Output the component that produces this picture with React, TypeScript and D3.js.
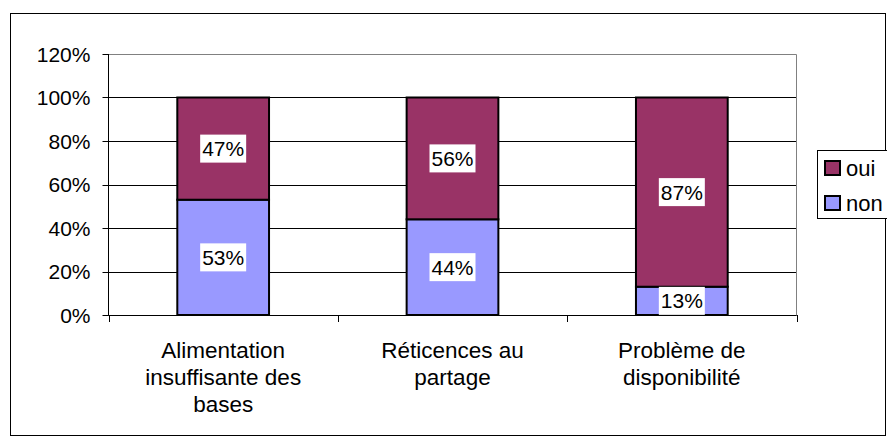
import React from 'react';
import * as d3 from 'd3';

const categories = [
  ['Alimentation', 'insuffisante des', 'bases'],
  ['Réticences au', 'partage'],
  ['Problème de', 'disponibilité'],
];
const nonValues = [53, 44, 13];
const ouiValues = [47, 56, 87];
const yTicks = [0, 20, 40, 60, 80, 100, 120];

const W = 887;
const H = 437;
const left = 108.5;
const right = 796.5;
const top = 54;
const bottom = 315;
const FONT = '"Liberation Sans", Arial, sans-serif';

export default function App() {
  const x = d3.scaleBand<number>().domain(d3.range(categories.length)).range([left, right]).paddingInner(0).paddingOuter(0);
  const y = d3.scaleLinear().domain([0, 120]).range([bottom, top]);
  const bw = x.bandwidth() * 0.4;

  const series = [
    { name: 'non', color: '#9999FF', values: nonValues, base: nonValues.map(() => 0) },
    { name: 'oui', color: '#993366', values: ouiValues, base: nonValues },
  ];

  return (
    <svg width={W} height={H} style={{ position: 'absolute', left: 0, top: 0, background: '#fff' }} fontFamily={FONT}>
      <rect x={10.5} y={13.5} width={875} height={422} fill="#fff" stroke="#000" strokeWidth={1} />
      {/* gridlines */}
      {yTicks.map(t => (
        <line key={t} x1={left} x2={right} y1={Math.round(y(t)) + 0.5} y2={Math.round(y(t)) + 0.5}
          stroke={t === 120 ? '#808080' : '#000'} strokeWidth={1} />
      ))}
      <line x1={right} x2={right} y1={top + 0.5} y2={bottom} stroke="#808080" />
      {/* y axis */}
      <line x1={left} x2={left} y1={top} y2={bottom + 0.5} stroke="#000" />
      {yTicks.map(t => (
        <g key={'yt' + t}>
          <line x1={left - 6} x2={left} y1={Math.round(y(t)) + 0.5} y2={Math.round(y(t)) + 0.5} stroke="#000" />
          <text x={left - 18} y={y(t) + 7.5} textAnchor="end" fontSize={21}>{t}%</text>
        </g>
      ))}
      {/* bars */}
      {series.map(s => s.values.map((v, i) => {
        const cx = x(i)! + x.bandwidth() / 2;
        const y0 = y(s.base[i]);
        const y1 = y(s.base[i] + v);
        return (
          <rect key={s.name + i} x={cx - bw / 2} y={y1} width={bw} height={y0 - y1}
            fill={s.color} stroke="#000" strokeWidth={2} />
        );
      }))}
      {/* x axis */}
      <line x1={left} x2={right} y1={bottom + 0.5} y2={bottom + 0.5} stroke="#000" />
      {d3.range(categories.length + 1).map(i => {
        const xx = Math.round(left + i * x.bandwidth()) + 0.5;
        return <line key={'xt' + i} x1={xx} x2={xx} y1={bottom} y2={bottom + 7} stroke="#000" />;
      })}
      {/* data labels */}
      {series.map(s => s.values.map((v, i) => {
        const cx = x(i)! + x.bandwidth() / 2;
        const cy = y(s.base[i] + v / 2);
        const label = `${v}%`;
        const tw = 42;
        return (
          <g key={'lbl' + s.name + i}>
            <rect x={cx - tw / 2 - 2} y={cy - 14} width={tw + 4} height={28} fill="#fff" />
            <text x={cx} y={cy + 7.5} textAnchor="middle" fontSize={21}>{label}</text>
          </g>
        );
      }))}
      {/* category labels */}
      {categories.map((lines, i) => (
        <text key={'cat' + i} textAnchor="middle" fontSize={22.5}>
          {lines.map((l, j) => (
            <tspan key={j} x={x(i)! + x.bandwidth() / 2} y={358 + j * 27}>{l}</tspan>
          ))}
        </text>
      ))}
      {/* legend */}
      <rect x={817.5} y={150.5} width={80} height={68} fill="#fff" stroke="#000" />
      {[...series].reverse().map((s, k) => (
        <g key={'leg' + s.name}>
          <rect x={825} y={161 + k * 35} width={15} height={14} fill={s.color} stroke="#000" strokeWidth={2} />
          <text x={846} y={175.5 + k * 35} fontSize={22}>{s.name}</text>
        </g>
      ))}
    </svg>
  );
}
